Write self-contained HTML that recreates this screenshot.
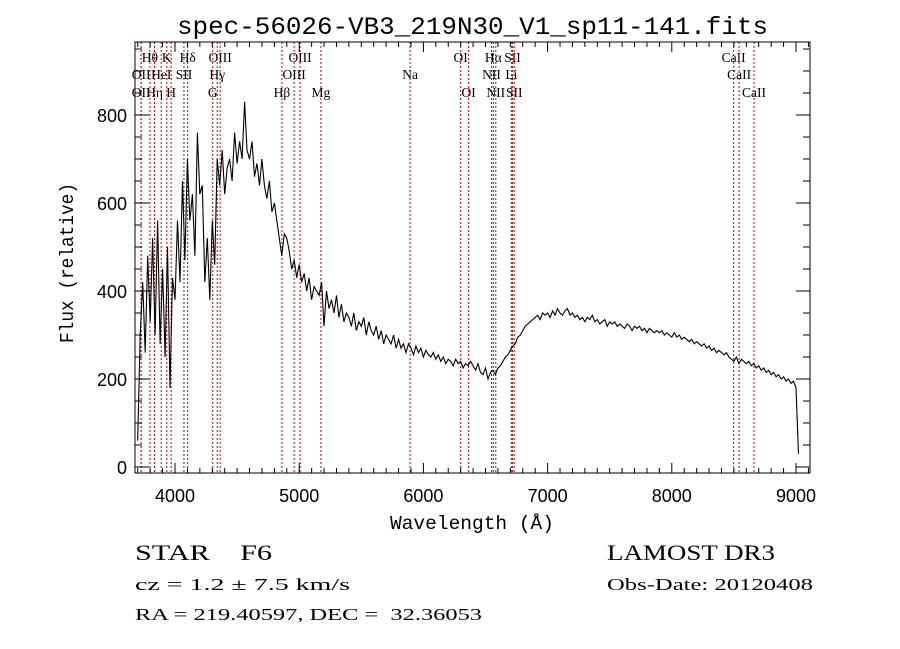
<!DOCTYPE html>
<html><head><meta charset="utf-8"><style>
body{margin:0;background:#fff;}
svg{display:block;}
text{font-family:"Liberation Serif",serif;fill:#000;white-space:pre;}
.mono{font-family:"Liberation Mono",monospace;}
.sans{font-family:"Liberation Sans",sans-serif;}
</style></head><body>
<svg id="chart" width="900" height="649" viewBox="0 0 900 649" xmlns="http://www.w3.org/2000/svg" xml:space="preserve">
<rect width="900" height="649" fill="#fff"/>
<text x="177" y="34" font-size="25" class="mono" textLength="591" lengthAdjust="spacingAndGlyphs">spec-56026-VB3_219N30_V1_sp11-141.fits</text>
<g id="lines"></g>
<g id="spec"></g>
<g id="axes"></g>
<text x="390" y="529" font-size="19" class="mono" textLength="164" lengthAdjust="spacingAndGlyphs">Wavelength (Å)</text>
<text transform="translate(73,343) rotate(-90)" font-size="19" class="mono" textLength="160" lengthAdjust="spacingAndGlyphs">Flux (relative)</text>
<text x="135" y="560" font-size="22" textLength="137" lengthAdjust="spacingAndGlyphs">STAR    F6</text>
<text x="135" y="590" font-size="17" textLength="215" lengthAdjust="spacingAndGlyphs">cz = 1.2 ± 7.5 km/s</text>
<text x="135" y="620" font-size="17" textLength="347" lengthAdjust="spacingAndGlyphs">RA = 219.40597, DEC =  32.36053</text>
<text x="607" y="560" font-size="22" textLength="168" lengthAdjust="spacingAndGlyphs">LAMOST DR3</text>
<text x="607" y="590" font-size="17" textLength="206" lengthAdjust="spacingAndGlyphs">Obs-Date: 20120408</text>
</svg>
<script>
const lineWaves=[3798,3934,4102,4363,5007,6300,6563,6717,8498,3727,3889,4072,4340,4959,5893,6548,6708,8542,3727,3835,3969,4304,4861,5175,6364,6583,6731,8662];
const lineLabels=["Hθ","K","Hδ","OIII","OIII","OI","Hα","SII","CaII","OII","HeI","SII","Hγ","OIII","Na","NII","Li","CaII","OII","Hη","H","G","Hβ","Mg","OI","NII","SII","CaII"];
const lineRows=[0,0,0,0,0,0,0,0,0,1,1,1,1,1,1,1,1,1,2,2,2,2,2,2,2,2,2,2];
const lineDark=[0,0,1,0,0,0,1,0,0,0,0,1,0,0,0,1,0,0,0,0,0,0,0,0,0,1,0,0];
const waveStart=3700, waveStep=20;
const flux=[60,300,420,260,480,330,520,300,560,280,450,250,500,180,430,
380,560,420,650,470,700,560,620,480,760,620,640,420,520,380,
560,460,700,640,720,620,680,700,650,760,690,740,700,830,720,
700,740,660,690,640,700,640,610,650,580,600,560,520,480,530,
520,490,450,470,430,460,420,440,400,430,380,410,400,390,420,
320,400,360,380,350,390,340,370,330,350,340,320,350,310,330,
320,340,300,330,310,300,320,290,310,280,300,290,280,300,270,
290,270,280,260,280,270,255,275,260,270,250,265,255,250,260,
245,255,240,250,235,245,240,230,245,235,240,225,235,230,240,
230,220,235,215,210,225,200,215,220,210,225,230,240,250,255,
265,275,280,295,300,310,320,325,330,335,340,345,335,350,345,
350,340,355,345,360,350,345,355,360,345,350,340,345,335,340,
330,340,335,345,330,335,325,330,335,320,330,325,330,320,325,
320,315,325,320,310,320,315,320,310,315,305,315,310,305,310,
305,310,300,305,300,295,305,295,300,290,295,290,285,290,280,
285,280,275,280,270,275,265,270,260,265,260,255,260,250,245,
240,250,235,245,240,235,240,230,235,225,230,220,225,215,220,
210,215,205,210,200,205,195,200,190,195,180,30];
const xTicks=[4000,5000,6000,7000,8000,9000];
const yTicks=[0,200,400,600,800];

const NS="http://www.w3.org/2000/svg";
const L=135,R=810,T=42,B=473;
const xs=w=>175+(w-4000)*0.1242;
const ys=v=>467-v*0.44;
function mk(tag,attrs,parent){const e=document.createElementNS(NS,tag);for(const k in attrs)e.setAttribute(k,attrs[k]);parent.appendChild(e);return e;}
const gl=document.getElementById('lines'),gs=document.getElementById('spec'),ga=document.getElementById('axes');
const rowY=[62,79,97];
lineWaves.forEach((w,i)=>{
 const x=xs(w);
 const ln=mk('line',{x1:x,x2:x,y1:T,y2:B,stroke:lineDark[i]?'#333':'#c00000','stroke-width':1,'stroke-dasharray':'2,2'},gl);
 
 
 const t=mk('text',{x:x,y:rowY[lineRows[i]],'font-size':13.5,'text-anchor':'middle'},gl);
 t.textContent=lineLabels[i];
 
 
});
let pts=flux.map((v,i)=>xs(waveStart+i*waveStep).toFixed(1)+','+ys(v).toFixed(1)).join(' ');
const pl=mk('polyline',{points:pts,fill:'none',stroke:'#000','stroke-width':1.1},gs);


const fr=mk('rect',{x:L,y:T,width:R-L,height:B-T,fill:'none',stroke:'#000','stroke-width':1},ga);


for(let w=3700;w<=9100;w+=100){const x=xs(w);const big=w%1000===0;const h=big?10:5;
 mk('line',{x1:x,x2:x,y1:B,y2:B-h,stroke:'#000'},ga);mk('line',{x1:x,x2:x,y1:T,y2:T+h,stroke:'#000'},ga);}
for(let v=0;v<=950;v+=50){const y=ys(v);const big=v%200===0;const h=big?14:7;
 mk('line',{x1:L,x2:L+h,y1:y,y2:y,stroke:'#000'},ga);mk('line',{x1:R,x2:R-h,y1:y,y2:y,stroke:'#000'},ga);}
xTicks.forEach(w=>{const t=mk('text',{x:xs(w),y:502,'font-size':18,'text-anchor':'middle',class:'sans'},ga);t.textContent=w;
 
 });
yTicks.forEach(v=>{const t=mk('text',{x:127,y:ys(v)+7,'font-size':18,'text-anchor':'end',class:'sans'},ga);t.textContent=v;
 
 });
</script>
</body></html>
